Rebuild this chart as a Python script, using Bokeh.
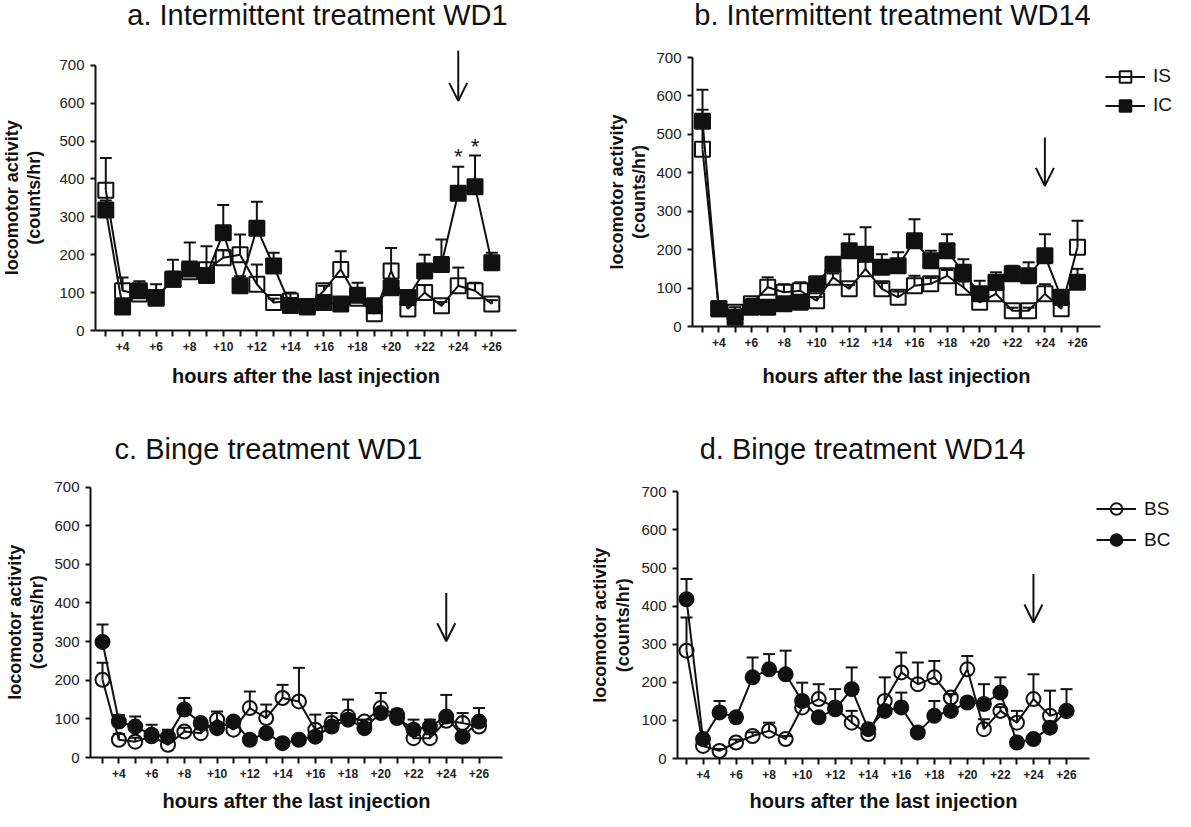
import math
from bokeh.plotting import figure
from bokeh.models import (Range1d, FixedTicker, Whisker, TeeHead, Arrow, OpenHead,
                          Label, Legend, LegendItem, ColumnDataSource)
from bokeh.layouts import row, column
from bokeh.embed import file_html
from bokeh.resources import INLINE

# ---------------- data ----------------
hours = list(range(3, 27))
x_labels = ["", "+4", "", "+6", "", "+8", "", "+10", "", "+12", "", "+14", "",
            "+16", "", "+18", "", "+20", "", "+22", "", "+24", "", "+26"]
y_ticks = [0, 100, 200, 300, 400, 500, 600, 700]

titles = ["a. Intermittent treatment WD1", "b. Intermittent treatment WD14",
          "c. Binge treatment WD1", "d. Binge treatment WD14"]
x_title = "hours after the last injection"
y_title_1 = "locomotor activity"
y_title_2 = "(counts/hr)"

# a. Intermittent WD1
a_IS = [370, 105, 96, 87, 135, 155, 160, 192, 200, 122, 74, 78, 63, 105, 161, 85, 44, 157, 57, 100, 65, 118, 105, 70]
a_IS_err = [85, 35, 10, 15, 20, 25, 62, 20, 53, 52, 10, 22, 8, 13, 48, 10, 10, 61, 10, 20, 10, 48, 21, 10]
a_IC = [318, 62, 105, 85, 135, 162, 145, 258, 118, 270, 170, 66, 62, 74, 70, 93, 65, 113, 87, 157, 174, 362, 379, 179]
a_IC_err = [25, 20, 25, 37, 52, 70, 20, 73, 25, 70, 35, 15, 10, 15, 15, 33, 10, 20, 18, 43, 66, 70, 83, 26]
# b. Intermittent WD14
b_IS = [461, 46, 37, 59, 102, 89, 93, 67, 128, 98, 150, 98, 76, 106, 111, 132, 102, 63, 85, 41, 41, 85, 46, 206]
b_IS_err = [103, 5, 13, 13, 26, 21, 22, 10, 10, 10, 20, 15, 15, 26, 15, 15, 15, 10, 10, 8, 8, 25, 10, 69]
b_IC = [534, 46, 24, 50, 50, 59, 63, 111, 162, 197, 188, 154, 158, 223, 171, 197, 141, 85, 115, 137, 132, 184, 76, 115]
b_IC_err = [82, 5, 10, 10, 10, 10, 10, 17, 10, 43, 70, 34, 35, 56, 26, 43, 34, 34, 26, 21, 35, 56, 10, 35]
# c. Binge WD1
c_BS = [201, 46, 41, 55, 33, 67, 63, 98, 72, 128, 102, 154, 145, 72, 89, 106, 93, 128, 110, 50, 50, 95, 89, 80]
c_BS_err = [44, 15, 10, 10, 10, 10, 10, 21, 10, 43, 35, 34, 87, 39, 26, 44, 5, 39, 10, 10, 10, 10, 26, 10]
c_BC = [299, 93, 80, 59, 54, 124, 89, 76, 93, 46, 63, 37, 46, 54, 80, 98, 76, 115, 102, 72, 80, 106, 54, 93]
c_BC_err = [45, 17, 26, 26, 18, 30, 9, 10, 9, 8, 10, 10, 10, 10, 10, 10, 10, 10, 22, 26, 18, 56, 10, 35]
# d. Binge WD14
d_BS = [283, 33, 20, 42, 59, 73, 51, 134, 156, 134, 94, 64, 151, 226, 195, 213, 160, 234, 77, 125, 94, 156, 112, 125]
d_BS_err = [87, 8, 5, 8, 10, 21, 8, 10, 39, 10, 31, 10, 62, 52, 57, 43, 9, 35, 26, 10, 31, 65, 66, 10]
d_BC = [418, 51, 121, 108, 213, 234, 221, 151, 108, 129, 182, 77, 125, 134, 68, 112, 125, 147, 143, 173, 42, 51, 81, 125]
d_BC_err = [53, 8, 30, 10, 52, 40, 62, 48, 10, 53, 57, 10, 10, 39, 10, 39, 44, 10, 52, 40, 8, 8, 10, 57]

# withdrawal-time arrows (hour, from, to) and significance stars (hour, level)
arrow_a = (24, 738, 606)
arrow_b = (24, 492, 366)
arrow_c = (24, 426, 301)
arrow_d = (24, 484, 357)
stars_a = [(24, 458), (25, 486)]

FONT = "Liberation Sans"
INK = "#111111"


class Panel:
    """A figure whose frame is the whole canvas; axes sit at fixed data locations."""

    def __init__(self, px, py, w, h, left, bottom, top700, h3, h26, axis_end):
        self.px, self.py, self.w, self.h = px, py, w, h
        self.left = left
        self.bottom = bottom
        self.top700 = top700
        self.axis_end = axis_end
        self.k = (h26 - h3) / 23.0
        self.h3 = h3
        self.ypp = 700.0 / (bottom - top700)
        p = figure(width=w, height=h,
                   x_range=Range1d(self.X(px), self.X(px + w)),
                   y_range=Range1d(self.Y(py + h), self.Y(py)),
                   output_backend="svg", toolbar_location=None, tools="",
                   min_border_left=0, min_border_right=0, min_border_top=0, min_border_bottom=0)
        p.title.visible = False
        p.outline_line_color = None
        p.grid.visible = False
        xa = p.xaxis[0]
        ya = p.yaxis[0]
        xa.fixed_location = 0
        ya.fixed_location = self.X(left)
        xa.bounds = (self.X(left), self.X(axis_end))
        ya.bounds = (0, 700)
        xa.ticker = FixedTicker(ticks=hours)
        xa.major_label_overrides = {hh: lab for hh, lab in zip(hours, x_labels)}
        ya.ticker = FixedTicker(ticks=y_ticks)
        for ax in (xa, ya):
            ax.axis_line_width = 2
            ax.axis_line_color = INK
            ax.major_tick_line_width = 2
            ax.major_tick_line_color = INK
            ax.major_tick_in = 0
            ax.minor_tick_line_color = None
            ax.major_label_text_font = FONT
            ax.major_label_text_color = "#222222"
        xa.major_tick_out = 6
        ya.major_tick_out = 5
        xa.major_label_standoff = 5
        ya.major_label_standoff = 6
        xa.major_label_text_font_size = "12px"
        xa.major_label_text_font_style = "bold"
        ya.major_label_text_font_size = "15px"
        self.p = p

    def X(self, sx):
        return 3 + (sx - self.h3) / self.k

    def Y(self, sy):
        return (self.bottom - sy) * self.ypp

    def text(self, txt, cx, cy, size, bold=False, angle=0.0):
        self.p.add_layout(Label(x=self.X(cx), y=self.Y(cy), text=txt, angle=angle,
                                text_font=FONT, text_font_size=size, text_color=INK,
                                text_font_style="bold" if bold else "normal",
                                text_align="center", text_baseline="middle"))

    def axis_titles(self, y1x, y2x, xlab_y):
        ymid = (self.bottom + self.top700) / 2.0
        self.text(y_title_1, y1x, ymid, "18px", True, math.pi / 2)
        self.text(y_title_2, y2x, ymid, "18px", True, math.pi / 2)
        self.text(x_title, (self.left + self.axis_end) / 2.0, xlab_y, "20px", True)

    def series(self, vals, errs, marker, filled, size):
        p = self.p
        src = ColumnDataSource(dict(x=hours, y=vals, top=[v + e for v, e in zip(vals, errs)]))
        p.add_layout(Whisker(source=src, base="x", lower="y", upper="top", dimension="height",
                             line_width=2, line_color=INK,
                             upper_head=TeeHead(size=12, line_width=2, line_color=INK), lower_head=None))
        ln = p.line("x", "y", source=src, line_width=2, line_color=INK)
        sc = p.scatter("x", "y", source=src, marker=marker, size=size, line_width=2, line_color=INK,
                       fill_color=INK if filled else "white", fill_alpha=1.0 if filled else 0.0)
        return ln, sc

    def arrow(self, spec):
        hx, y0, y1 = spec
        self.p.add_layout(Arrow(x_start=hx, y_start=y0, x_end=hx, y_end=y1, line_width=2, line_color=INK,
                                end=OpenHead(size=18, line_width=2, line_color=INK)))

    def legend(self, items, lx, top, spacing):
        n = len(items)
        gh = 29
        height = n * gh + (n - 1) * spacing
        leg = Legend(items=[LegendItem(label=lab, renderers=list(rs)) for lab, rs in items],
                     location=(lx - self.px, (self.py + self.h) - (top + height)),
                     glyph_width=40, glyph_height=gh, label_height=gh, spacing=spacing,
                     padding=0, margin=0, border_line_color=None, background_fill_alpha=0,
                     label_text_font=FONT, label_text_font_size="19px", label_text_color=INK,
                     label_standoff=8)
        self.p.add_layout(leg)


# ---------------- panel a ----------------
A = Panel(8, 8, 590, 412, 103, 338, 72.7, 113.3, 499.3, 524)
A.series(a_IS, a_IS_err, "square", False, 15)
A.series(a_IC, a_IC_err, "square", True, 15)
A.text(titles[0], 325, 22, "29px")
A.axis_titles(19, 41, 383)
A.arrow(arrow_a)
for hx, hy in stars_a:
    A.p.add_layout(Label(x=hx, y=hy, text="*", text_font=FONT, text_font_size="22px",
                         text_color=INK, text_align="center", text_baseline="middle"))

# ---------------- panel b ----------------
B = Panel(598, 8, 585, 412, 700, 334, 65, 710, 1085, 1108)
r_is = B.series(b_IS, b_IS_err, "square", False, 15)
r_ic = B.series(b_IC, b_IC_err, "square", True, 15)
B.text(titles[1], 900, 22, "29px")
B.axis_titles(624, 646, 383)
B.arrow(arrow_b)
B.legend([("IS", r_is), ("IC", r_ic)], 1113, 69.5, 0)

# ---------------- panel c ----------------
C = Panel(8, 420, 590, 399, 98, 765, 494.5, 110, 486.5, 510)
C.series(c_BS, c_BS_err, "circle", False, 14)
C.series(c_BC, c_BC_err, "circle", True, 14)
C.text(titles[2], 276, 456, "29px")
C.axis_titles(22, 44, 808)
C.arrow(arrow_c)

# ---------------- panel d ----------------
D = Panel(598, 420, 585, 399, 685, 766, 499.3, 694, 1074, 1097)
r_bs = D.series(d_BS, d_BS_err, "circle", False, 14)
r_bc = D.series(d_BC, d_BC_err, "circle", True, 14)
D.text(titles[3], 870, 456, "29px")
D.axis_titles(607, 630, 808)
D.arrow(arrow_d)
D.legend([("BS", r_bs), ("BC", r_bc)], 1104, 502, 2)

layout = column(row(A.p, B.p), row(C.p, D.p))
open("out.html", "w").write(file_html(layout, INLINE))
